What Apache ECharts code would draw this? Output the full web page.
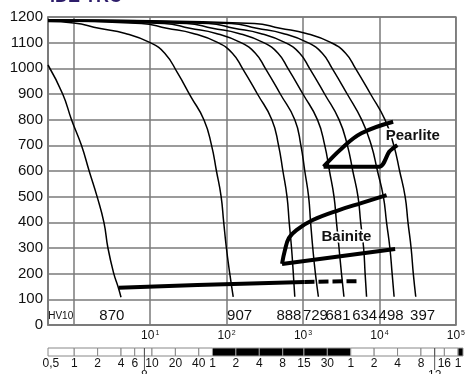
<!DOCTYPE html>
<html><head><meta charset="utf-8">
<script src="https://cdn.jsdelivr.net/npm/echarts@6/dist/echarts.min.js"></script>
<style>html,body{margin:0;padding:0;background:#fff}#c{width:468px;height:374px}</style>
</head><body><div id="c"></div>
<script>
// ---- data (time in seconds, temperature in °C) ----
const curve870 = [[0.46,1013],[0.716,900],[0.934,800],[1.26,700],[1.59,600],[2.02,500],[2.48,400],[2.80,300],[3.34,200],[3.79,150],[4.15,108]];
const curve907 = [[0.46,1182],[1,1177],[2.14,1156],[4.73,1136],[10,1100],[15.5,1059],[22.9,981],[34,890],[50.6,799],[63.4,701],[73.5,601],[84.5,503],[91.5,402],[98.9,305],[110,200],[122,110]];
const curve888 = [[0.46,1184],[7.66,1175],[16.5,1156],[36.5,1136],[77.3,1100],[119,1059],[161,1000],[253,900],[391,800],[478,700],[545,600],[617,500],[659,400],[707,300],[746,200],[780,110]];
const curve729 = [[0.46,1185],[15.3,1175],[33,1156],[72.8,1136],[154,1100],[238,1059],[321,1000],[504,900],[780,800],[937,700],[1054,600],[1183,500],[1256,400],[1341,300],[1452,200],[1588,110]];
const curve681 = [[0.46,1186],[30.2,1175],[65.3,1156],[144,1136],[305,1100],[471,1059],[634,1000],[997,900],[1542,800],[1924,700],[2218,600],[2543,500],[2740,400],[2958,300],[3186,200],[3430,110]];
const curve634 = [[0.46,1187],[58,1175],[125,1156],[276,1136],[585,1100],[904,1059],[1217,1000],[1914,900],[2958,800],[3805,700],[4477,600],[5238,500],[5675,400],[6206,300],[6490,200],[6780,110]];
const curve498 = [[0.46,1188],[115,1175],[248,1156],[546,1136],[1156,1100],[1786,1059],[2404,1000],[3784,900],[5848,800],[7820,700],[9420,600],[11250,500],[12380,400],[13690,300],[14650,200],[15550,110]];
const curve397 = [[0.46,1189],[231,1175],[500,1156],[1103,1136],[2334,1100],[3608,1059],[4853,1000],[7635,900],[11800,800],[15400,700],[18360,600],[21680,500],[23620,400],[25950,300],[27720,200],[29850,110]];

const pearliteStart  = [[1858,617],[3206,688],[5800,747],[15100,792]];
const pearliteFinish = [[1858,617],[9970,617],[13400,675],[15100,689],[17150,701]];
const bainiteStart   = [[531,238],[580,292],[653,339],[820,370],[1341,409],[2958,448],[5900,476],[12380,506]];
const bainiteFinish  = [[531,238],[16030,296]];
const martensiteLine = [[3.88,145],[41.5,156],[1045,168]];
const martensiteDash = [[1045,168],[5350,171]];

const hardness      = ['870','907','888','729','681','634','498','397'];
const hardnessTimes = [3.15,148,653,1452,2870,6400,14200,36700];

// time scale bar
const secondMarks = [0.46,1,2,4,6,8,10,20,40,60];          // white
const minuteMarks = [60,120,240,480,900,1800,3600];         // black
const hourMarks   = [3600,7200,14400,28800,43200,57600,86400]; // white
const dayMarks    = [86400,100000];                         // black
const barLabelTimes = [0.5,1,2,4,6,10,20,40,60,120,240,480,900,1800,3600,7200,14400,28800,57600,86400];
const barLabelTexts = ['0,5','1','2','4','6','10','20','40','1','2','4','8','15','30','1','2','4','8','16','1'];
const longTickTimes = [8,43200];
const longTickTexts = ['8','12'];

const FONT = '"Liberation Sans", Arial, sans-serif';
const GRID = '#7a7a7a';

function segs(marks, black){ const r=[]; for(let i=0;i<marks.length-1;i++) r.push([marks[i],marks[i+1],black?1:0]); return r; }
const barData = [].concat(segs(secondMarks,false),segs(minuteMarks,true),segs(hourMarks,false),segs(dayMarks,true));

function curveSeries(d){
  return {type:'line', data:d, xAxisIndex:0, yAxisIndex:0, showSymbol:false, symbol:'none',
    smooth:0.5, lineStyle:{color:'#000', width:1.5}, z:3, silent:true};
}
function thick(d, smooth, dash){
  return {type:'line', data:d, xAxisIndex:0, yAxisIndex:0, showSymbol:false, symbol:'none',
    smooth:smooth, lineStyle:{color:'#000', width:4, type: dash?[10,4]:'solid', cap:'butt'}, z:4, silent:true};
}
function textSeries(points, texts, font, gi){
  return {type:'custom', xAxisIndex:gi, yAxisIndex:gi, data:points, z:5, silent:true,
    renderItem:function(params, api){
      const p = api.coord([api.value(0), api.value(1)]);
      return {type:'text', x:p[0], y:p[1], style:{text:texts[params.dataIndex], font:font, fill:'#111', align:'center', verticalAlign:'middle'}};
    }};
}

const chart = echarts.init(document.getElementById('c'), null, {renderer:'canvas'});
chart.setOption({
  animation:false,
  grid:[{left:48,right:5,top:17,bottom:49,show:true,borderColor:GRID,borderWidth:1.5,backgroundColor:'transparent'},
        {left:48,right:5,top:348,height:8}],
  graphic:[{type:'text', x:50, y:-12, style:{text:'IDE TRC', font:'bold 18px '+FONT, fill:'#2d1d6a', verticalAlign:'top'}}],
  xAxis:[{type:'log', logBase:10, min:0.46, max:100000, gridIndex:0,
          axisLine:{show:true, lineStyle:{color:GRID,width:1.5}}, axisTick:{show:false},
          splitLine:{show:true, lineStyle:{color:GRID,width:1.5}}, minorSplitLine:{show:false},
          axisLabel:{margin:5, color:'#111', fontFamily:FONT,
            formatter:function(v){ const e=Math.round(Math.log10(v)); if(e<1||Math.abs(Math.log10(v)-e)>1e-6) return ''; return '{b|10}{s|'+e+'}'; },
            rich:{b:{fontSize:12, fontFamily:FONT, color:'#111'}, s:{fontSize:7, fontFamily:FONT, color:'#111', verticalAlign:'top', padding:[0,0,0,1]}}}},
         {type:'log', logBase:10, min:0.46, max:100000, gridIndex:1, show:false}],
  yAxis:[{type:'value', min:0, max:1200, interval:100, gridIndex:0,
          axisLine:{show:true, lineStyle:{color:GRID,width:1.5}}, axisTick:{show:false},
          splitLine:{show:true, lineStyle:{color:GRID,width:1.5}},
          axisLabel:{fontSize:15, color:'#111', margin:5, fontFamily:FONT, formatter:function(v){return String(v);}}},
         {type:'value', min:0, max:1, gridIndex:1, show:false}],
  series:[
    curveSeries(curve870), curveSeries(curve907), curveSeries(curve888), curveSeries(curve729),
    curveSeries(curve681), curveSeries(curve634), curveSeries(curve498), curveSeries(curve397),
    thick(pearliteStart, 0.4), thick(pearliteFinish, 0.3), thick(bainiteStart, 0.4), thick(bainiteFinish, false),
    thick(martensiteLine, false), thick(martensiteDash, false, true),
    textSeries(hardnessTimes.map(t=>[t,35]), hardness, '15px '+FONT, 0),
    {type:'custom', xAxisIndex:0, yAxisIndex:0, data:[[0.675,35]], z:5, silent:true,
      renderItem:function(p, api){ const c=api.coord([api.value(0),api.value(1)]);
        return {type:'text', x:c[0], y:c[1], style:{text:'HV10', font:'10px '+FONT, fill:'#111', align:'center', verticalAlign:'middle'}}; }},
    {type:'custom', xAxisIndex:0, yAxisIndex:0, data:[[27300,736],[3700,344]], z:5, silent:true,
      renderItem:function(p, api){ const c=api.coord([api.value(0),api.value(1)]);
        return {type:'text', x:c[0], y:c[1], style:{text:['Pearlite','Bainite'][p.dataIndex], font:'bold 15px '+FONT, fill:'#111', align:'center', verticalAlign:'middle', stroke:'#fff', lineWidth:3}}; }},
    // scale bar
    {type:'custom', xAxisIndex:1, yAxisIndex:1, data:barData, silent:true, clip:false,
      encode:{x:[0,1]},
      renderItem:function(p, api){
        const a=api.coord([api.value(0),0]), b=api.coord([api.value(1),1]);
        const blk = api.value(2)===1;
        return {type:'rect', shape:{x:a[0], y:b[1], width:b[0]-a[0], height:a[1]-b[1]},
          style:{fill: blk?'#000':'#fff', stroke: blk?'#999':'#888', lineWidth:1}};
      }},
    {type:'custom', xAxisIndex:1, yAxisIndex:1, data:barLabelTimes.map(t=>[t,0]), silent:true, clip:false,
      renderItem:function(p, api){ const c=api.coord([api.value(0),0]);
        return {type:'text', x:c[0], y:c[1]+8, style:{text:barLabelTexts[p.dataIndex], font:'12px '+FONT, fill:'#111', align:'center', verticalAlign:'middle'}}; }},
    {type:'custom', xAxisIndex:1, yAxisIndex:1, data:longTickTimes.map(t=>[t,0]), silent:true, clip:false,
      renderItem:function(p, api){ const c=api.coord([api.value(0),0]); const t=api.coord([api.value(0),1]);
        return {type:'group', children:[
          {type:'line', shape:{x1:c[0], y1:t[1], x2:c[0], y2:c[1]+14}, style:{stroke:'#555', lineWidth:1}},
          {type:'text', x:c[0], y:c[1]+14, style:{text:longTickTexts[p.dataIndex], font:'12px '+FONT, fill:'#111', align:'center', verticalAlign:'top'}}]}; }}
  ]
});
</script></body></html>
